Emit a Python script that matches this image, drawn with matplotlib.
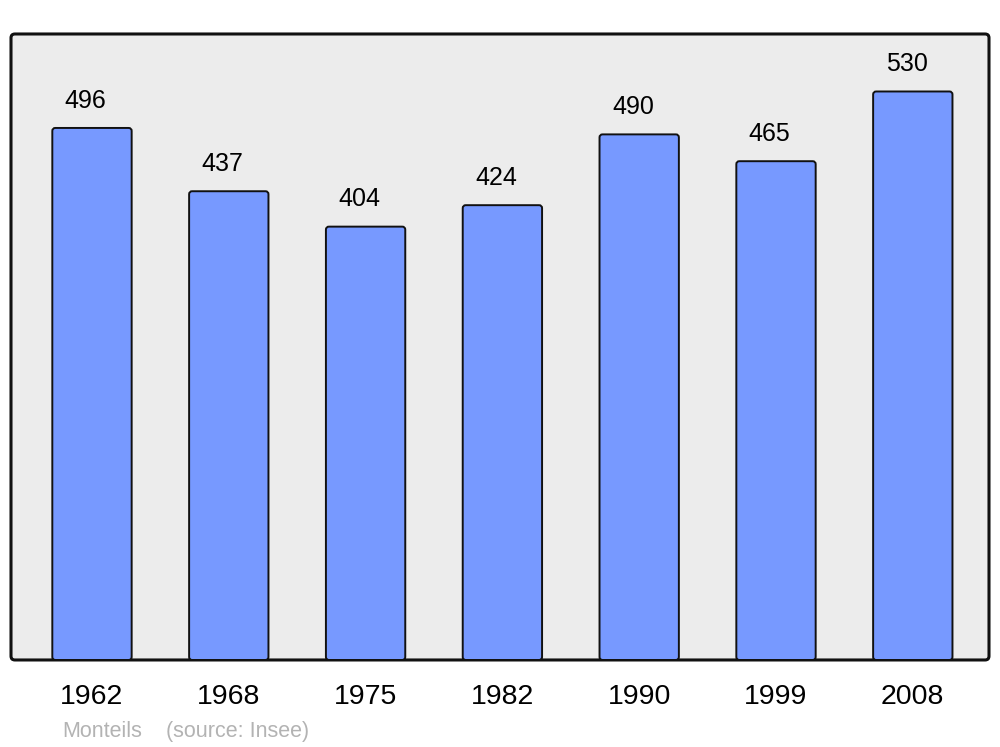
import matplotlib
matplotlib.use("Agg")
import matplotlib.pyplot as plt
from matplotlib.patches import FancyBboxPatch

years = ["1962", "1968", "1975", "1982", "1990", "1999", "2008"]
population = [496, 437, 404, 424, 490, 465, 530]

plt.rcParams['font.family'] = ['Liberation Sans', 'DejaVu Sans']

fig = plt.figure(figsize=(10, 7.47), dpi=100)
ax = fig.add_axes([0.011, 0.1165, 0.978, 0.838])
ax.set_facecolor('none')

xmin, xmax = -0.592, 6.557
ymin, ymax = 0, 583.6
ax.set_xlim(xmin, xmax)
ax.set_ylim(ymin, ymax)

# background frame with rounded corners
frame = FancyBboxPatch((0, 0), 1, 1, boxstyle="round,pad=0,rounding_size=0.004",
                       mutation_aspect=1.56, transform=ax.transAxes,
                       facecolor='#ececec', edgecolor='#111111', linewidth=2.2,
                       clip_on=False, zorder=0)
ax.add_patch(frame)

width = 0.58
x_px_per_unit = 978 / (xmax - xmin)
y_px_per_unit = 626 / (ymax - ymin)
aspect = (3 / y_px_per_unit) / (3 / x_px_per_unit)

for i, v in enumerate(population):
    p = FancyBboxPatch((i - width / 2, 0), width, v,
                       boxstyle="round,pad=0,rounding_size=%f" % (3 / x_px_per_unit),
                       mutation_aspect=aspect,
                       facecolor='#7799ff', edgecolor='#111111', linewidth=1.4, zorder=2)
    ax.add_patch(p)
    ax.annotate(str(v), (i, v), xytext=(-4.5, 11), textcoords='offset points',
                ha='center', va='bottom', fontsize=18, color='black')

for s in ax.spines.values():
    s.set_visible(False)
ax.set_yticks([])
ax.set_xticks(range(len(years)))
ax.set_xticklabels(years, fontsize=20.5)
ax.tick_params(axis='x', length=0, pad=17)

fig.text(0.062, 0.0134, "Monteils", fontsize=15.5,
         color='#b3b3b3', ha='left', va='baseline')
fig.text(0.166, 0.0134, "(source: Insee)", fontsize=15.5,
         color='#b3b3b3', ha='left', va='baseline')

fig.savefig("out.png", dpi=100)
